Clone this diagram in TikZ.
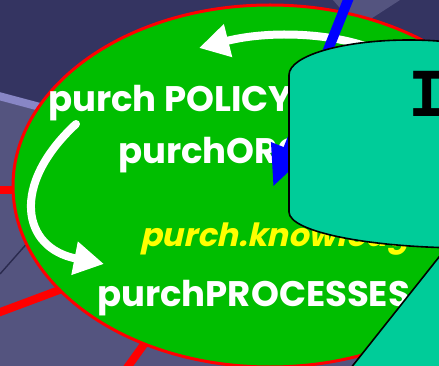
\documentclass[tikz,border=0pt]{standalone}
\usepackage{fontspec}
\setmainfont{Poppins}
\newfontfamily\slantfont{Poppins}[FakeSlant=0.22]
\newfontfamily\barfont{DejaVu Sans Mono}
\usetikzlibrary{arrows.meta}
\definecolor{bgdark}{HTML}{343461}
\definecolor{bglight}{HTML}{54547F}
\definecolor{bandlilac}{HTML}{8886C6}
\definecolor{blobgreen}{HTML}{00BE00}
\definecolor{spokered}{HTML}{FF0000}
\definecolor{cylteal}{HTML}{00CC99}
\definecolor{arrowblue}{HTML}{0000FF}
\definecolor{knowyellow}{HTML}{FFFF00}

\begin{document}
\begin{tikzpicture}[x=1pt, y=-1pt,
  spoke/.style={spokered, line width=8pt},
  blobtext/.style={anchor=base west, inner sep=0pt, text=white,
                   font=\fontsize{35.5}{35.5}\selectfont\bfseries},
  whitearrow/.style={white, line width=8pt, line cap=round,
                     -{Triangle[length=30pt, width=32pt]}},
  cyl/.style={fill=cylteal, draw=black, line width=1.6pt}
]
  \useasboundingbox (0,0) rectangle (439,366);
  \clip (0,0) rectangle (439,366);

  % background
  \fill[bgdark] (0,0) rectangle (439,366);
  \fill[bglight] (0,97) -- (200,150) -- (439,366) -- (0,366) -- cycle;
  \fill[bglight] (333,0) -- (400,0) -- (366,22) -- (352,22) -- cycle;
  \draw[bandlilac, line width=8pt] (-5,95) -- (70,115);
  \draw[bgdark!80!black, line width=1.4pt] (0,274) -- (30,240);
  \draw[spoke] (-5,190) -- (25,190);
  \draw[spoke] (-5,314) -- (70,286);
  \draw[spoke] (150,336) -- (124,372);

  % the blob
  \draw[spokered, line width=3pt, fill=blobgreen] (270,186) ellipse [x radius=257, y radius=181];

  \coordinate (topTail) at (385,54);
  \coordinate (topTip) at (199,48);
  \coordinate (leftTail) at (76,124);
  \coordinate (leftTip) at (104,264);
  \draw[whitearrow] (topTail) .. controls (340,32) and (270,30) .. (topTip);
  \draw[whitearrow] (leftTail) .. controls (10,185) and (22,248) .. (leftTip);

  \node[blobtext] (policy) at (48,112) {purch POLICY};
  \node[blobtext] (org) at (118,164) {purchORG};
  \node[blobtext, text=knowyellow, font=\fontsize{32}{32}\slantfont\bfseries] (know) at (140,247) {purch.knowledg};
  \node[blobtext] (proc) at (97,306) {purchPROCESSES};

  % blue arrow behind the store
  \coordinate (blueTail) at (352,-10);
  \coordinate (blueTip) at (273,187);
  \draw[arrowblue, line width=10pt, -{Triangle[length=41pt, width=34pt]}] (blueTail) -- (blueTip);

  % store shapes
  \filldraw[cyl] (289,212) -- (289,75) arc[start angle=180, end angle=300, x radius=120, y radius=35]
    -- (469,248) arc[start angle=90, end angle=180, x radius=180, y radius=36] -- cycle;
  \filldraw[cyl] (470,218) -- (335,388) -- (470,388) -- cycle;
  \node[anchor=base, inner sep=0pt, font=\fontsize{62}{62}\barfont\bfseries] (ilabel) at (427,117) {I};
\end{tikzpicture}
\end{document}
